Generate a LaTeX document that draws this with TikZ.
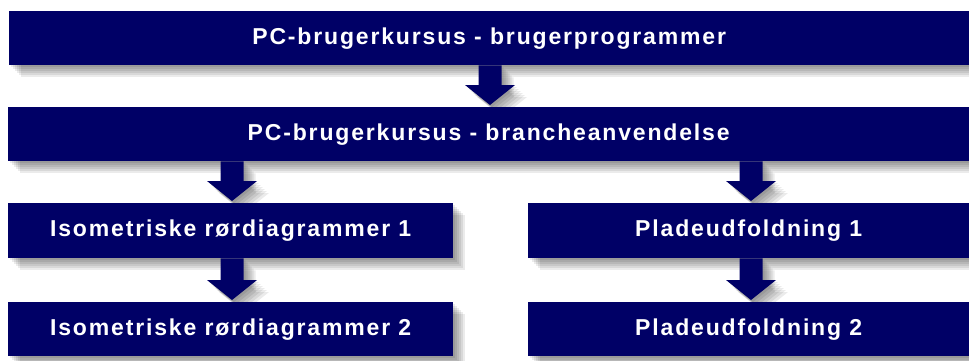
\documentclass[tikz,border=0pt]{standalone}
\usepackage{fontspec}
\newfontfamily\boxfont{Liberation Sans}[LetterSpace=8]
\definecolor{navy}{RGB}{0,0,102}
\pgfdeclarelayer{bg}
\pgfsetlayers{bg,main}
\tikzset{
  box/.style={fill=navy, text=white, font=\boxfont\bfseries\fontsize{23}{26}\selectfont,
    inner sep=0pt, anchor=north west, minimum height=54pt, text height=16.5pt, text depth=4.8pt},
}
\newcommand\boxshadow[1]{%
  \begin{pgfonlayer}{bg}
    \foreach \k in {2,4,...,12}{%
      \fill[black,opacity=.08] ([shift={(\k,\k)}]#1.north west) rectangle ([shift={(\k,\k)}]#1.south east);}
  \end{pgfonlayer}}
\newcommand\arrowpoly[2]{%
  \fill[#1] ([shift={(-11.5+#2,#2)}]s) -- ([shift={(-11.5+#2,-22+#2)}]t) -- ([shift={(-25+#2,-22+#2)}]t)
    -- ([shift={(#2,-2+#2)}]t) -- ([shift={(25+#2,-22+#2)}]t) -- ([shift={(11.5+#2,-22+#2)}]t)
    -- ([shift={(11.5+#2,#2)}]s) -- cycle;}
\newcommand\fatarrow[3]{%
  \coordinate (s) at (#1.south -| #3,0);
  \coordinate (t) at (#2.north -| #3,0);
  \begin{pgfonlayer}{bg}
    \foreach \k in {2,4,...,12}{\arrowpoly{black,opacity=.08}{\k}}
  \end{pgfonlayer}
  \arrowpoly{navy}{0}}
\begin{document}
\begin{tikzpicture}[x=1pt,y=-1pt]
\begin{pgfonlayer}{bg}
  \fill[white] (0,0) rectangle (969,361);
\end{pgfonlayer}
\useasboundingbox (0,0) rectangle (969,361);
\node[box, minimum width=960pt] (n1) at (9,11) {PC-brugerkursus - brugerprogrammer};
\node[box, minimum width=961pt] (n2) at (8,107) {PC-brugerkursus - brancheanvendelse};
\node[box, minimum width=445pt, minimum height=55pt] (n3) at (8,203) {Isometriske rørdiagrammer 1};
\node[box, minimum width=445pt] (n4) at (8,302) {Isometriske rørdiagrammer 2};
\node[box, minimum width=441pt, minimum height=55pt] (n5) at (528,203) {Pladeudfoldning 1};
\node[box, minimum width=441pt] (n6) at (528,302) {Pladeudfoldning 2};
\foreach \n in {n1,n2,n3,n4,n5,n6}{\boxshadow{\n}}
\fatarrow{n1}{n2}{490}
\fatarrow{n2}{n3}{232}
\fatarrow{n3}{n4}{232}
\fatarrow{n2}{n5}{751}
\fatarrow{n5}{n6}{751}
\end{tikzpicture}
\end{document}
